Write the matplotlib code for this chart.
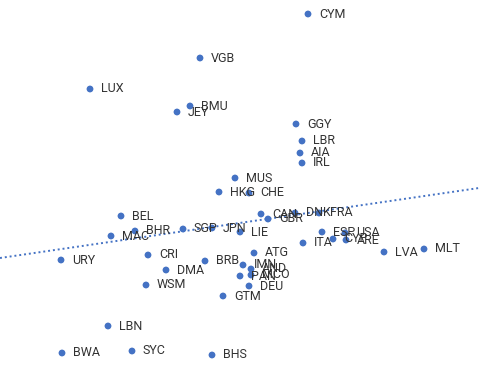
import matplotlib
matplotlib.use("Agg")
import matplotlib.pyplot as plt

labels = ["CYM", "VGB", "LUX", "BMU", "JEY", "GGY", "LBR", "AIA", "IRL", "MUS",
          "HKG", "CHE", "BEL", "CAN", "GBR", "DNK", "FRA", "BHR", "MAC", "SGP",
          "JPN", "LIE", "URY", "CRI", "DMA", "WSM", "BRB", "ATG", "IMN", "AND",
          "PAN", "MCO", "DEU", "GTM", "ITA", "ESP", "CYP", "USA", "ARE", "LVA",
          "MLT", "LBN", "BWA", "SYC", "BHS"]
x_vals = [308, 200, 90, 190, 177, 296, 302, 300, 302, 235,
          219, 249, 121, 261, 268, 295, 319, 135, 111, 183,
          212, 240, 61, 148, 166, 146, 205, 254, 243, 251,
          240, 251, 249, 223, 303, 322, 333, 345, 346, 384,
          424, 108, 62, 132, 212]
y_vals = [353, 309, 278, 261, 255, 243, 226, 214, 204, 189,
          175, 174, 151, 153, 148, 154, 154, 136, 131, 138,
          139, 135, 107, 112, 97, 82, 106, 114, 102, 98,
          91, 92, 81, 71, 124, 135, 128, 134, 127, 115,
          118, 41, 14, 16, 12]
trend_intercept = 109.0
trend_slope = 70.0 / 479.0

W, H = 479, 367
fig = plt.figure(figsize=(W / 100, H / 100), dpi=100)
ax = fig.add_axes([0, 0, 1, 1])
ax.set_xlim(0, W)
ax.set_ylim(0, H)
ax.axis("off")

xs = [0, W]
ax.plot(xs, [trend_intercept + trend_slope * v for v in xs], linestyle=(0, (1, 1.5)),
        color="#4472c4", linewidth=1.4, zorder=1)
ax.scatter(x_vals, y_vals, s=24, color="#4472c4", edgecolors="none", zorder=3)
for lab, xv, yv in zip(labels, x_vals, y_vals):
    ax.annotate(lab, (xv, yv), xytext=(11, 0), textcoords="offset pixels",
                va="center", ha="left", fontsize=9, color="#333333",
                family=["Roboto", "DejaVu Sans"], zorder=4)

fig.savefig("out.png", dpi=100)
